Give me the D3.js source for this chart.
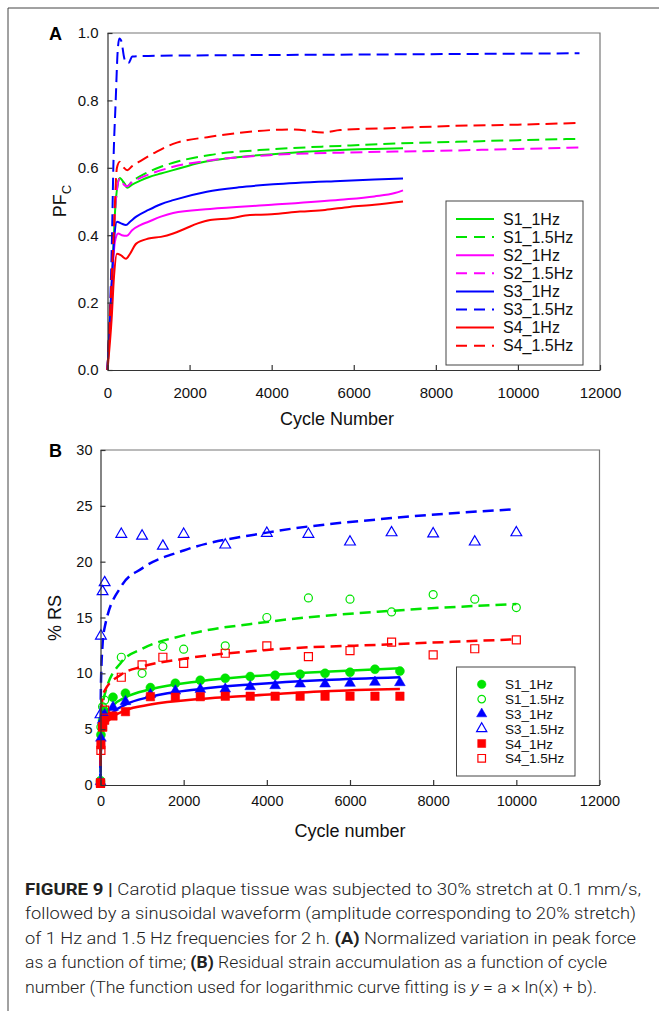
<!DOCTYPE html>
<html><head><meta charset="utf-8">
<script src="https://cdn.jsdelivr.net/npm/d3@7"></script>
<style>body{margin:0;background:#fff}svg{display:block}</style>
</head><body><svg id="c" width="659" height="1011"></svg>
<script>
// ---------- Panel A data (cycle number, normalized peak force) ----------
const seriesA = ["S1_1Hz","S1_1.5Hz","S2_1Hz","S2_1.5Hz","S3_1Hz","S3_1.5Hz","S4_1Hz","S4_1.5Hz"];
const cycA_S1_1 = [0,120,200,300,400,480,600,800,1000,1300,1600,2250,3230,4500,5670,6500,7200];
const pfc_S1_1  = [0,0.30,0.50,0.57,0.555,0.541,0.55,0.562,0.572,0.583,0.593,0.615,0.632,0.645,0.653,0.656,0.658];
const cycA_S1_15 = [0,120,200,300,400,480,600,800,1000,1300,1600,2500,4000,5670,7000,8500,10000,11500];
const pfc_S1_15  = [0,0.30,0.50,0.57,0.555,0.545,0.56,0.575,0.588,0.603,0.615,0.638,0.655,0.665,0.672,0.677,0.682,0.686];
const cycA_S2_1 = [0,100,180,260,350,470,600,800,1000,1300,1600,2500,4000,5670,6500,7000,7200];
const pfc_S2_1  = [0,0.25,0.38,0.405,0.40,0.398,0.415,0.43,0.44,0.455,0.466,0.478,0.49,0.505,0.515,0.525,0.533];
const cycA_S2_15 = [0,120,200,300,400,480,600,800,1000,1600,2500,4000,5670,8000,10000,11500];
const pfc_S2_15  = [0,0.30,0.50,0.568,0.55,0.545,0.558,0.57,0.58,0.603,0.622,0.638,0.645,0.65,0.656,0.66];
const cycA_S3_1 = [0,100,170,230,330,450,550,700,1000,1300,1600,2420,3200,4040,5670,6500,7200];
const pfc_S3_1  = [0,0.25,0.40,0.44,0.435,0.43,0.44,0.455,0.475,0.492,0.504,0.529,0.542,0.551,0.561,0.565,0.568];
const cycA_S3_15 = [0,110,142,200,250,290,340,400,450,520,600,1000,3000,6000,9000,11500];
const pfc_S3_15  = [0,0.40,0.60,0.80,0.95,0.984,0.975,0.93,0.912,0.912,0.93,0.932,0.934,0.936,0.938,0.94];
const cycA_S4_1 = [0,100,160,230,330,450,550,700,1000,1300,1600,1900,2200,2500,3000,3470,4000,4690,5300,5900,6500,7200];
const pfc_S4_1  = [0,0.15,0.28,0.345,0.34,0.33,0.345,0.375,0.39,0.395,0.405,0.42,0.435,0.445,0.45,0.46,0.462,0.47,0.475,0.484,0.49,0.50];
const cycA_S4_15 = [0,150,230,300,400,480,600,800,1200,1600,2500,3230,4520,5250,5670,7000,8350,10000,11500];
const pfc_S4_15  = [0,0.40,0.60,0.618,0.60,0.593,0.605,0.62,0.648,0.671,0.692,0.704,0.714,0.705,0.712,0.718,0.724,0.728,0.733];
const ticksAx = [0,2000,4000,6000,8000,10000,12000];
const ticksAy = [0,0.2,0.4,0.6,0.8,1.0];

// ---------- Panel B data (cycle number, % residual strain) ----------
const seriesB = ["S1_1Hz","S1_1.5Hz","S3_1Hz","S3_1.5Hz","S4_1Hz","S4_1.5Hz"];
const cycB_1Hz  = [0,10,50,100,300,600,1200,1800,2400,3000,3600,4200,4800,5400,6000,6600,7200];
const cycB_15Hz = [0,10,50,100,500,1000,1500,2000,3000,4000,5000,6000,7000,8000,9000,10000];
const rs_S1_1  = [0.3,4.5,5.8,6.6,7.86,8.22,8.72,9.11,9.38,9.56,9.71,9.83,9.92,10.0,10.1,10.37,10.2];
const rs_S1_15 = [0.4,5.2,7.0,7.6,11.44,10.0,12.4,12.16,12.46,15.0,16.75,16.64,15.5,17.05,16.64,15.89];
const rs_S3_1  = [0.3,4.2,5.8,6.3,6.96,7.47,8.1,8.42,8.57,8.6,8.81,8.9,9.05,9.05,9.11,9.2,9.17];
const rs_S3_15 = [6.3,13.35,17.32,18.13,22.46,22.3,21.4,22.46,21.5,22.55,22.46,21.77,22.6,22.5,21.77,22.6];
const rs_S4_1  = [0.2,3.6,5.2,5.8,6.18,6.57,7.91,7.86,7.91,7.95,7.95,7.95,7.95,7.95,7.95,7.95,7.95];
const rs_S4_15 = [0.15,3.1,5.2,6.7,9.65,10.75,11.44,10.9,11.8,12.46,11.5,12.04,12.79,11.65,12.2,13.0];
// logarithmic fit curves
const fitCyc_1Hz  = [1,10,50,100,300,600,1200,2400,3600,5400,7200];
const fitCyc_15Hz = [0.2,1,10,50,100,500,1000,2000,4000,7000,10000];
const fit_S1_1  = [1.13,3.55,5.24,5.96,7.12,7.85,8.57,9.3,9.73,10.15,10.45];
const fit_S1_15 = [0,0.1,4.1,6.9,8.1,11.0,12.2,13.4,14.6,15.6,16.2];
const fit_S3_1  = [0.8,3.1,4.7,5.4,6.5,7.2,7.9,8.6,9.0,9.4,9.65];
const fit_S3_15 = [0,3.6,8.9,12.6,14.1,17.8,19.4,21.0,22.6,23.9,24.7];
const fit_S4_1  = [1.7,3.5,4.7,5.3,6.1,6.7,7.2,7.7,8.0,8.4,8.6];
const fit_S4_15 = [2.2,3.8,6.1,7.8,8.45,9.9,10.6,11.3,12.1,12.6,13.05];
const ticksBx = [0,2000,4000,6000,8000,10000,12000];
const ticksBy = [0,5,10,15,20,25,30];

const GREEN="#00e400", MAG="#ff00ff", BLUE="#0000ff", RED="#ff0000";
const FONT="'Liberation Sans', Arial, sans-serif";
const svg = d3.select("#c");

// outer frame
svg.append("path").attr("d","M8,1011V8H659").attr("fill","none").attr("stroke","#444").attr("stroke-width",1);

function zip(a,b){return a.map((v,i)=>[v,b[i]]);}

function axes(g,x,y,xt,yt,fmtY,fs,padX,padY){
  const [x0,x1]=x.range(), [y0,y1]=y.range();
  g.append("path").attr("d",`M${x0},${y1}H${x1}V${y0}`).attr("fill","none").attr("stroke","#777").attr("stroke-width",1.2);
  const ax=g.append("g").attr("transform",`translate(0,${y0})`)
    .call(d3.axisBottom(x).tickValues(xt).tickSizeInner(-5).tickSizeOuter(0).tickPadding(padX).tickFormat(d3.format("d")));
  const ay=g.append("g").attr("transform",`translate(${x0},0)`)
    .call(d3.axisLeft(y).tickValues(yt).tickSizeInner(-5).tickSizeOuter(0).tickPadding(padY).tickFormat(fmtY));
  [ax,ay].forEach(a=>{
    a.selectAll("path,line").attr("stroke","#333").attr("stroke-width",1.2);
    a.selectAll("text").attr("font-family",FONT).attr("font-size",fs).attr("fill","#111");
  });
}

// ================= Panel A =================
const xA = d3.scaleLinear().domain([0,12000]).range([107.5,600]);
const yA = d3.scaleLinear().domain([0,1]).range([370,33]);
const gA = svg.append("g");
const linesA = [
  {d:zip(cycA_S1_1,pfc_S1_1),c:GREEN,dash:null},
  {d:zip(cycA_S1_15,pfc_S1_15),c:GREEN,dash:"12,6"},
  {d:zip(cycA_S2_1,pfc_S2_1),c:MAG,dash:null},
  {d:zip(cycA_S2_15,pfc_S2_15),c:MAG,dash:"12,6"},
  {d:zip(cycA_S3_1,pfc_S3_1),c:BLUE,dash:null},
  {d:zip(cycA_S3_15,pfc_S3_15),c:BLUE,dash:"12,6"},
  {d:zip(cycA_S4_1,pfc_S4_1),c:RED,dash:null},
  {d:zip(cycA_S4_15,pfc_S4_15),c:RED,dash:"12,6"}
];
const lineA = d3.line().x(d=>xA(d[0])).y(d=>yA(d[1])).curve(d3.curveMonotoneX);
linesA.forEach(s=>{
  gA.append("path").attr("d",lineA(s.d)).attr("fill","none").attr("stroke",s.c)
    .attr("stroke-width",2).attr("stroke-dasharray",s.dash);
});
axes(gA,xA,yA,ticksAx,ticksAy,d3.format(".1f"),"15px",17,9);
gA.append("text").attr("x",49).attr("y",40).attr("font-family",FONT).attr("font-weight","bold").attr("font-size","18px").text("A");
gA.append("text").attr("x",337).attr("y",425).attr("text-anchor","middle").attr("font-family",FONT).attr("font-size","18px").attr("fill","#111").text("Cycle Number");
const ytA = gA.append("text").attr("transform","translate(66,201) rotate(-90)").attr("text-anchor","middle").attr("font-family",FONT).attr("font-size","18px").attr("fill","#111");
ytA.append("tspan").text("PF");
ytA.append("tspan").attr("font-size","13px").attr("dy",5).text("C");
// legend A
const legA = gA.append("g");
legA.append("rect").attr("x",446).attr("y",201).attr("width",137).attr("height",164).attr("fill","#fff").attr("stroke","#444").attr("stroke-width",1);
seriesA.forEach((n,i)=>{
  const yy=219+i*18.1;
  legA.append("line").attr("x1",456).attr("x2",494).attr("y1",yy).attr("y2",yy).attr("stroke",linesA[i].c).attr("stroke-width",2).attr("stroke-dasharray",linesA[i].dash?"11,7":null);
  legA.append("text").attr("x",503).attr("y",yy+5.5).attr("font-family",FONT).attr("font-size","16px").attr("fill","#111").text(n);
});

// ================= Panel B =================
const xB = d3.scaleLinear().domain([0,12000]).range([100.5,599.5]);
const yB = d3.scaleLinear().domain([0,30]).range([785,450]);
const gB = svg.append("g");
const lineB = d3.line().x(d=>xB(d[0])).y(d=>yB(d[1])).curve(d3.curveMonotoneX);
const fitsB = [
  {d:zip(fitCyc_1Hz,fit_S1_1),c:GREEN,dash:null},
  {d:zip(fitCyc_15Hz,fit_S1_15),c:GREEN,dash:"11,6"},
  {d:zip(fitCyc_1Hz,fit_S3_1),c:BLUE,dash:null},
  {d:zip(fitCyc_15Hz,fit_S3_15),c:BLUE,dash:"11,6"},
  {d:zip(fitCyc_1Hz,fit_S4_1),c:RED,dash:null},
  {d:zip(fitCyc_15Hz,fit_S4_15),c:RED,dash:"11,6"}
];
fitsB.forEach(s=>{
  gB.append("path").attr("d",lineB(s.d)).attr("fill","none").attr("stroke",s.c)
    .attr("stroke-width",2.5).attr("stroke-dasharray",s.dash);
});
const ptsB = [
  {d:zip(cycB_1Hz,rs_S1_1),c:GREEN,shape:d3.symbolCircle,size:64,fill:true},
  {d:zip(cycB_15Hz,rs_S1_15),c:GREEN,shape:d3.symbolCircle,size:50,fill:false},
  {d:zip(cycB_1Hz,rs_S3_1),c:BLUE,shape:d3.symbolTriangle,size:50,fill:true},
  {d:zip(cycB_15Hz,rs_S3_15),c:BLUE,shape:d3.symbolTriangle,size:50,fill:false},
  {d:zip(cycB_1Hz,rs_S4_1),c:RED,shape:d3.symbolSquare,size:72,fill:true},
  {d:zip(cycB_15Hz,rs_S4_15),c:RED,shape:d3.symbolSquare,size:64,fill:false}
];
ptsB.forEach(s=>{
  const sym=d3.symbol().type(s.shape).size(s.size);
  gB.append("g").selectAll("path").data(s.d).join("path")
    .attr("transform",d=>`translate(${xB(d[0])},${yB(d[1])})`)
    .attr("d",sym).attr("fill",s.fill?s.c:"none").attr("stroke",s.c).attr("stroke-width",s.fill?0.5:1.2);
});
axes(gB,xB,yB,ticksBx,ticksBy,d3.format("d"),"14.5px",11,8);
gB.append("text").attr("x",49).attr("y",457).attr("font-family",FONT).attr("font-weight","bold").attr("font-size","18px").text("B");
gB.append("text").attr("x",350).attr("y",837).attr("text-anchor","middle").attr("font-family",FONT).attr("font-size","18px").attr("fill","#111").text("Cycle number");
gB.append("text").attr("transform","translate(61,618) rotate(-90)").attr("text-anchor","middle").attr("font-family",FONT).attr("font-size","18px").attr("fill","#111").text("% RS");
// legend B
const legB = gB.append("g");
legB.append("rect").attr("x",456.5).attr("y",667).attr("width",118.5).attr("height",109).attr("fill","#fff").attr("stroke","#444").attr("stroke-width",1);
seriesB.forEach((n,i)=>{
  const yy=684.3+i*14.8;
  const s=ptsB[i];
  legB.append("path").attr("transform",`translate(481.7,${yy})`).attr("d",d3.symbol().type(s.shape).size(s.size*0.9))
    .attr("fill",s.fill?s.c:"none").attr("stroke",s.c).attr("stroke-width",s.fill?0.5:1.2);
  legB.append("text").attr("x",505).attr("y",yy+5).attr("font-family",FONT).attr("font-size","13.5px").attr("fill","#111").text(n);
});

// ================= Caption =================
const capLines = [
  [["b","FIGURE 9 | "],["n","Carotid plaque tissue was subjected to 30% stretch at 0.1 mm/s,"]],
  [["n","followed by a sinusoidal waveform (amplitude corresponding to 20% stretch)"]],
  [["n","of 1 Hz and 1.5 Hz frequencies for 2 h. "],["b","(A)"],["n"," Normalized variation in peak force"]],
  [["n","as a function of time; "],["b","(B)"],["n"," Residual strain accumulation as a function of cycle"]],
  [["n","number (The function used for logarithmic curve fitting is "],["i","y"],["n"," = a \u00d7 ln(x) + b)."]]
];
const capRight = [641,636,636,607,597];
capLines.forEach((ln,i)=>{
  const t=svg.append("text").attr("x",25).attr("y",895+i*24.4).attr("font-family","Roboto, 'Liberation Sans', sans-serif").attr("font-size","16.5px").attr("font-weight",300).attr("fill","#222");
  ln.forEach(([k,s])=>{
    const sp=t.append("tspan").text(s).attr("xml:space","preserve");
    if(k==="b") sp.attr("font-weight","bold");
    if(k==="i") sp.attr("font-style","italic");
  });
  t.attr("textLength",capRight[i]-25).attr("lengthAdjust","spacingAndGlyphs");
});
</script></body></html>
